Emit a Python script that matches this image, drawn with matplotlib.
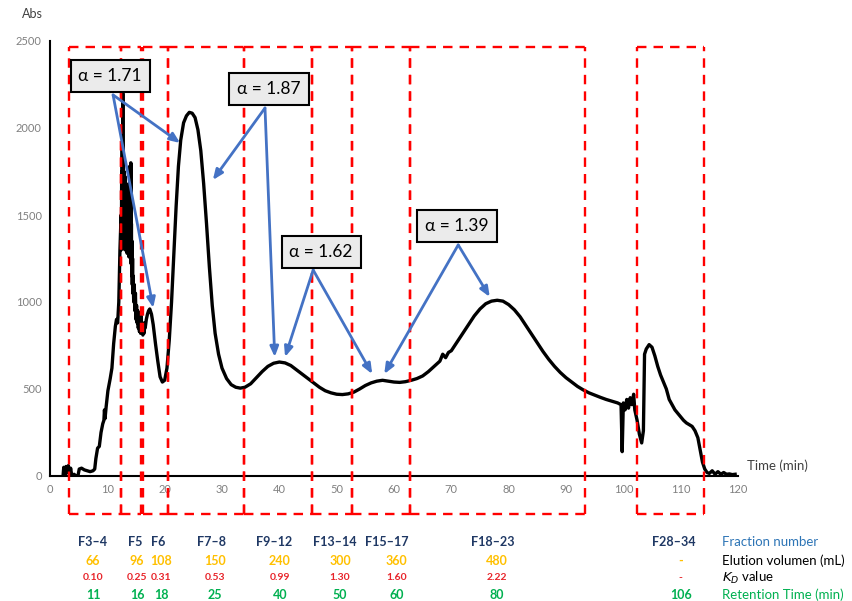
import matplotlib.pyplot as plt
import matplotlib.transforms as mtransforms

plt.rcParams['font.family'] = ['Lato', 'DejaVu Sans']

# chromatogram (time in min, absorbance)
time = [2.3, 2.4, 2.6, 2.8, 3.0, 3.2, 3.4, 3.6, 3.8, 4.2, 4.5, 4.9, 5.1, 5.5, 6.0, 6.5,
        7.0, 7.5, 7.8, 8.0, 8.3, 8.6, 8.9, 9.2, 9.4, 9.5, 9.6, 9.8, 10.1, 10.5, 10.8,
        11.1, 11.4, 11.6, 11.8, 12.0, 12.2,
        12.40, 12.45, 12.50, 12.55, 12.60, 12.65, 12.70, 12.75, 12.80, 12.85, 12.90,
        12.95, 13.00, 13.05, 13.10, 13.15, 13.20, 13.25, 13.30, 13.35, 13.40, 13.45,
        13.50, 13.55, 13.60, 13.65, 13.70, 13.75, 13.80, 13.85, 13.90, 13.95, 14.00,
        14.05, 14.10, 14.15, 14.20, 14.25, 14.30, 14.35, 14.40, 14.45, 14.50, 14.60,
        14.70, 14.80, 14.90, 15.00, 15.10, 15.20, 15.30, 15.40, 15.50, 15.60, 15.70,
        15.80, 15.90, 16.00, 16.10, 16.20, 16.30, 16.40, 16.50, 16.60, 16.80, 17.0,
        17.2, 17.4,
        17.7, 18.0, 18.4, 18.8, 19.2, 19.6, 20.0, 20.4, 20.8, 21.2, 21.6, 22.0, 22.4,
        22.8, 23.3, 23.8, 24.3, 24.8, 25.3, 25.8, 26.3, 26.8, 27.3, 27.8, 28.3, 28.8,
        29.4, 30.0, 30.8, 31.6, 32.4, 33.2, 34.0, 35.0, 36.0, 37.0, 38.0, 39.0, 40.0,
        41.0, 42.0, 43.0, 44.0, 45.0, 46.0, 47.0, 48.0, 49.0, 50.0, 51.0, 52.0, 53.0,
        54.0, 55.0, 56.0, 57.0, 58.0, 59.0, 60.0, 61.0, 62.0, 63.0, 64.0, 65.0, 66.0,
        67.0, 68.0, 68.5, 69.0, 69.5, 70.0, 71.0, 72.0, 73.0, 74.0, 75.0, 76.0, 77.0,
        78.0, 79.0, 80.0, 81.0, 82.0, 83.0, 84.0, 85.0, 86.0, 87.0, 88.0, 89.0, 90.0,
        91.0, 92.0, 93.0, 94.0, 95.0, 96.0, 97.0, 98.0, 99.0, 99.6, 99.8, 100.0, 100.3,
        100.6, 100.9, 101.2, 101.5, 101.8, 102.0, 102.4, 102.8, 103.2, 103.5, 103.7,
        104.0, 104.5, 105.0, 105.5, 106.0, 106.5, 107.0, 107.5, 108.0, 108.5, 109.0,
        109.5, 110.0, 110.5, 111.0, 111.5, 112.0, 112.5, 113.0, 113.4, 113.8, 114.2,
        114.6, 115.0, 115.5, 116.0, 116.5, 117.0, 117.5, 118.0, 118.5, 119.0, 119.5]
absorb = [10, 50, 0, 55, 20, 60, 5, 45, 0, 10, 0, 5, 40, 45, 35, 30,
          25, 30, 40, 100, 160, 170, 250, 300, 320, 380, 330, 400, 490, 560, 620,
          760, 860, 900, 880, 1000, 1300,
          1500, 1300, 1750, 1400, 1900, 1450, 2200, 1500, 1800, 1350, 1750,
          1400, 1700, 1300, 1720, 1350, 1650, 1300, 1680, 1320, 1600, 1280,
          1620, 1300, 1580, 1280, 1550, 1260, 1500, 1300, 1780, 1280, 1550,
          1250, 1800, 1220, 1450, 1150, 1350, 1100, 1250, 1050, 1150, 1000,
          1100, 950, 1050, 900, 980, 880, 950, 850, 940, 830, 900,
          820, 920, 830, 880, 810, 870, 820, 880, 850, 900, 930,
          950, 960,
          930, 870, 760, 660, 570, 540, 550, 620, 780, 1000, 1280, 1550, 1780,
          1930, 2030, 2070, 2090, 2085, 2060, 1990, 1870, 1680, 1450, 1200, 980, 820,
          700, 620, 560, 525, 510, 505, 510, 530, 565, 600, 630, 648, 655,
          650, 635, 610, 585, 560, 535, 510, 490, 478, 470, 468, 472, 482,
          500, 520, 535, 545, 550, 545, 540, 538, 542, 550, 560, 575, 600,
          630, 660, 700, 680, 710, 720, 770, 820, 870, 920, 960, 990, 1005,
          1010, 1005, 985, 955, 915, 865, 815, 765, 715, 670, 630, 595, 565,
          540, 515, 495, 478, 465, 452, 440, 430, 420, 410, 140, 420, 380,
          440, 390, 450, 410, 470, 380, 320, 240, 190, 260, 700,
          730, 755, 740, 690, 630, 580, 540, 500, 440, 410, 380,
          360, 340, 320, 305, 295, 285, 260, 220, 150, 80, 40,
          20, 15, 30, 10, 25, 10, 20, 10, 12, 8, 10]

# fraction windows (min)
frac_start = [3.3, 12.4, 16.2, 20.6, 33.8, 45.7, 52.7, 62.8, 102.4]
frac_end = [12.4, 15.9, 20.6, 33.8, 45.7, 52.7, 62.8, 93.3, 114.1]

# table below the chart
frac_names = ['F3–4', 'F5', 'F6', 'F7–8', 'F9–12', 'F13–14', 'F15–17', 'F18–23', 'F28–34']
elution_ml = ['66', '96', '108', '150', '240', '300', '360', '480', '-']
kd_values = ['0.10', '0.25', '0.31', '0.53', '0.99', '1.30', '1.60', '2.22', '-']
ret_time = ['11', '16', '18', '25', '40', '50', '60', '80', '106']
row_labels = ['Fraction number', 'Elution volumen (mL)', '$K_D$ value', 'Retention Time (min)']

# separation factors
alpha_labels = ['α = 1.71', 'α = 1.87', 'α = 1.62', 'α = 1.39']

fig = plt.figure(figsize=(8.52, 6.01), dpi=100)
ax = fig.add_axes([50 / 852, 1 - 476 / 601, 688 / 852, 435 / 601])

ax.plot(time, absorb, color='black', lw=2.4, solid_joinstyle='round')

# dashed fraction boxes; verticals drawn bottom-up so shared edges stay in phase
box_lo, box_hi = -218, 2466
dash = dict(color='#ff0000', lw=1.7, ls=(0, (4, 3)), clip_on=False, zorder=3)
for s, e in zip(frac_start, frac_end):
    ax.plot([s, s], [box_lo, box_hi], **dash)
    ax.plot([e, e], [box_lo, box_hi], **dash)
    ax.plot([s, e], [box_hi, box_hi], **dash)
    ax.plot([s, e], [box_lo, box_lo], **dash)

ax.set_xlim(0, 120)
ax.set_ylim(0, 2500)
ax.set_xticks(range(0, 121, 10))
ax.set_yticks(range(0, 2501, 500))
ax.tick_params(length=0, labelsize=8, colors='#808080', pad=6)
for sp in ['top', 'right']:
    ax.spines[sp].set_visible(False)
ax.spines['left'].set_linewidth(1.5)
ax.spines['bottom'].set_linewidth(1.5)

fig.text(22 / 852, 1 - 14 / 601, 'Abs', fontsize=9, color='#404040', va='center')
fig.text(747 / 852, 1 - 466 / 601, 'Time (min)', fontsize=9.5, color='#404040', va='center')

# alpha boxes and arrows
box_pos = [(10.5, 2299), (38.2, 2224), (47.3, 1287), (71.0, 1437)]
arrow_from = [(11.0, 2190), (37.5, 2115), (45.9, 1184), (71.2, 1328)]
arrow_to = [[(22.7, 1914), (18.0, 966)], [(28.4, 1701), (39.2, 684)],
            [(41.0, 684), (56.2, 586)], [(58.3, 586), (76.7, 1029)]]
for lab, (bx, by), org, tgts in zip(alpha_labels, box_pos, arrow_from, arrow_to):
    ax.text(bx, by, lab, fontsize=12.5, ha='center', va='center', zorder=6,
            bbox=dict(boxstyle='square,pad=0.45', fc='#ebebeb', ec='black', lw=1.5))
    for t in tgts:
        ax.annotate('', xy=t, xytext=org, zorder=5,
                    arrowprops=dict(arrowstyle='-|>,head_length=0.6,head_width=0.25',
                                    color='#4472c4', lw=2, shrinkA=0, shrinkB=0))

# table text, x in minutes, y in figure fraction
trans = mtransforms.blended_transform_factory(ax.transData, fig.transFigure)
name_x = [7.5, 14.9, 18.9, 28.1, 39.1, 49.7, 58.8, 77.2, 108.8]
val_x = [7.5, 15.2, 19.4, 28.8, 40.1, 50.6, 60.5, 77.9, 110.0]
rows_y = [1 - 542 / 601, 1 - 561 / 601, 1 - 578 / 601, 1 - 595 / 601]
for i in range(len(frac_names)):
    ax.text(name_x[i], rows_y[0], frac_names[i], transform=trans, ha='center', va='center',
            fontsize=9, fontweight='bold', color='#1f3864')
    ax.text(val_x[i], rows_y[1], elution_ml[i], transform=trans, ha='center', va='center',
            fontsize=9, fontweight='bold', color='#ffc000')
    ax.text(val_x[i], rows_y[2], kd_values[i], transform=trans, ha='center', va='center',
            fontsize=7.5, fontweight='bold', color='#e8242a')
    ax.text(val_x[i], rows_y[3], ret_time[i], transform=trans, ha='center', va='center',
            fontsize=9, fontweight='bold', color='#00b050')

row_colors = ['#2e75b6', 'black', 'black', '#00b050']
for lab, y, c in zip(row_labels, rows_y, row_colors):
    fig.text(722 / 852, y, lab, fontsize=9.5, color=c, va='center')

fig.savefig('out.png', dpi=100)
